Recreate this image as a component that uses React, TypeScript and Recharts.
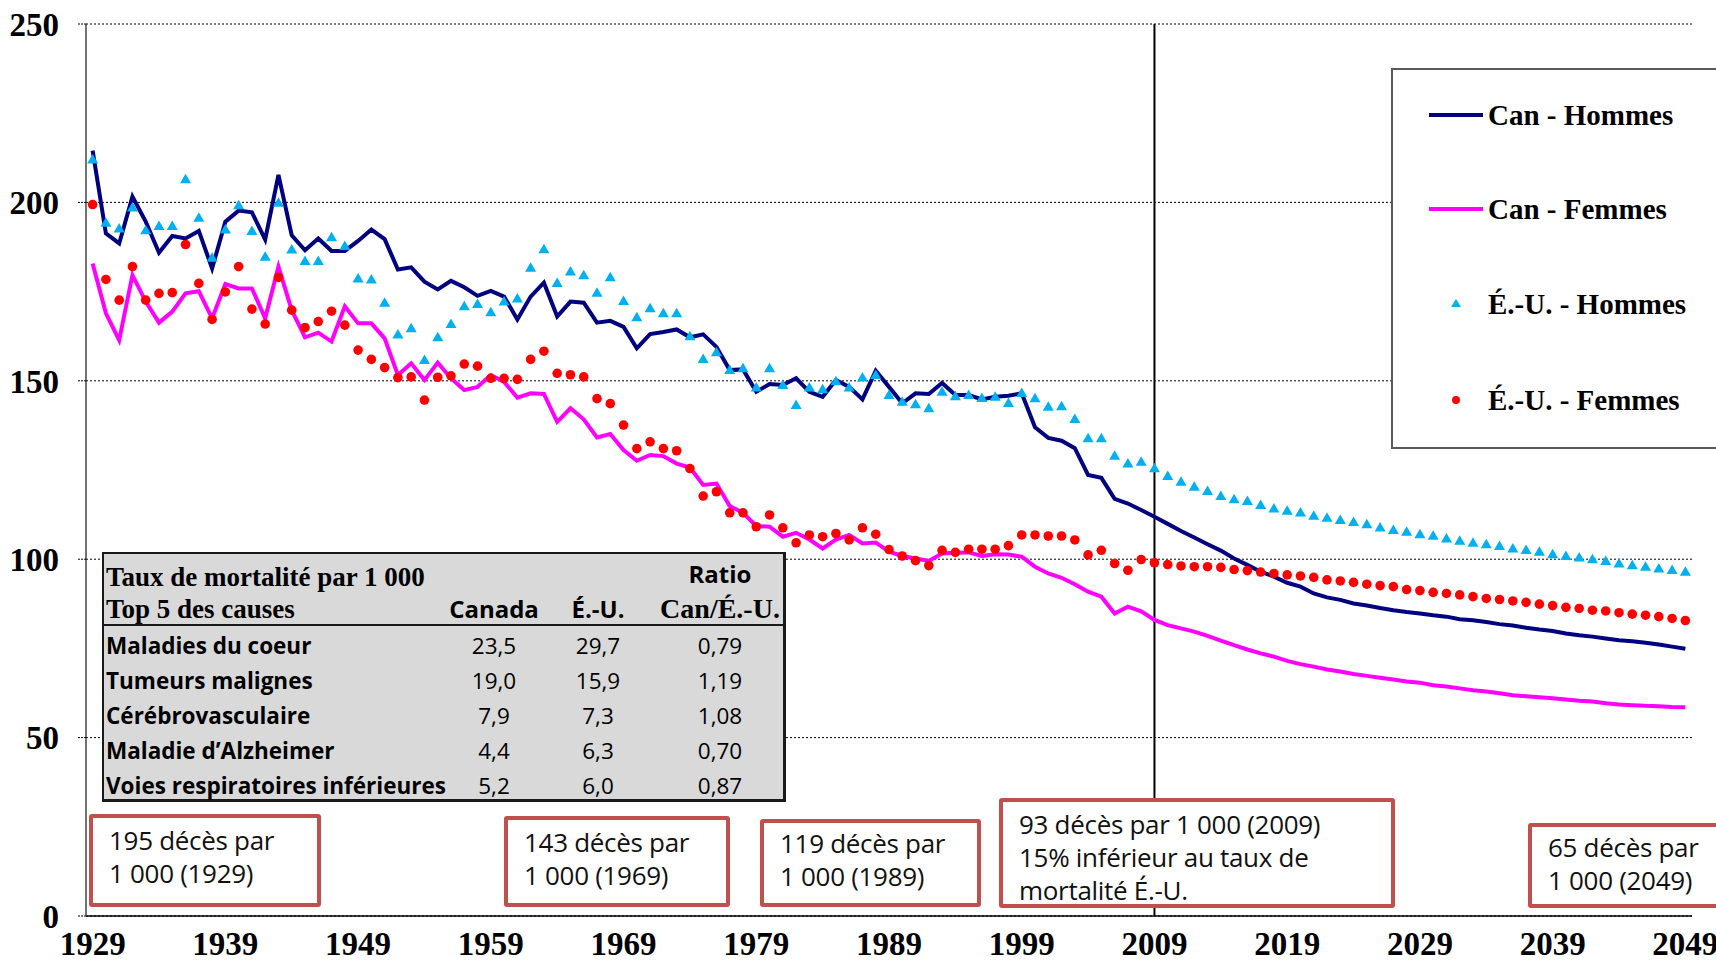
import React from 'react';
import { ComposedChart, Line, XAxis, YAxis, CartesianGrid, ReferenceLine } from 'recharts';

const FIRST_YEAR = 1929;

const CAN_HOMMES = [
  214.5, 191.3, 188.5, 201.6, 194.6, 185.9, 190.6, 189.9, 192.0, 181.5,
  194.6, 197.7, 197.2, 189.6, 207.7, 190.8, 186.6, 189.9, 186.4, 186.4,
  189.2, 192.4, 189.7, 181.2, 181.8, 177.8, 175.6, 178.0, 176.2, 173.8,
  175.2, 173.6, 167.2, 173.6, 177.5, 168.0, 172.2, 171.9, 166.3, 166.8,
  165.1, 159.1, 163.1, 163.7, 164.4, 162.2, 163.0, 159.5, 153.0, 153.2,
  146.9, 149.1, 148.8, 150.7, 146.9, 145.5, 150.2, 148.3, 144.8, 152.8,
  148.3, 143.7, 146.5, 146.3, 149.4, 146.0, 146.0, 144.8, 145.5, 145.8,
  146.5, 137.0, 134.0, 133.2, 131.1, 123.6, 122.8, 116.9, 115.6, 113.8,
  111.9, 109.9, 107.9, 106.1, 104.2, 102.4, 100.2, 98.4, 96.5, 95.1,
  93.4, 92.3, 90.4, 89.3, 88.6, 87.6, 87.0, 86.3, 85.7, 85.2,
  84.8, 84.3, 83.9, 83.2, 82.9, 82.4, 81.8, 81.4, 80.8, 80.3,
  79.9, 79.2, 78.7, 78.3, 77.8, 77.3, 77.0, 76.6, 76.1, 75.5, 74.9,
];

const CAN_FEMMES = [
  182.9, 168.9, 161.4, 179.6, 172.2, 166.3, 169.4, 174.5, 175.1, 167.5,
  177.1, 175.9, 175.9, 167.5, 182.0, 169.8, 162.2, 163.5, 161.0, 170.9,
  166.1, 166.1, 161.9, 151.6, 154.9, 150.2, 155.1, 150.7, 147.4, 148.3,
  151.6, 149.7, 145.3, 146.5, 146.3, 138.5, 142.3, 139.2, 134.1, 135.1,
  130.6, 127.6, 129.2, 128.9, 126.8, 125.7, 120.8, 121.2, 114.9, 113.0,
  109.3, 109.1, 106.3, 107.4, 105.5, 103.0, 105.5, 106.8, 104.4, 104.7,
  102.1, 100.9, 100.2, 99.5, 101.6, 101.8, 101.9, 100.9, 101.4, 101.3,
  100.7, 97.9, 96.0, 94.8, 93.0, 90.9, 89.5, 84.8, 86.7, 85.4,
  83.0, 81.5, 80.6, 79.7, 78.5, 77.2, 75.9, 74.7, 73.6, 72.7,
  71.5, 70.6, 69.9, 69.1, 68.5, 67.8, 67.3, 66.8, 66.3, 65.7,
  65.4, 64.7, 64.3, 63.8, 63.3, 62.9, 62.4, 61.9, 61.6, 61.3,
  61.0, 60.7, 60.3, 60.1, 59.6, 59.3, 59.1, 58.9, 58.8, 58.6, 58.5,
];

const EU_HOMMES = [
  212.0, 194.3, 192.7, 198.6, 192.2, 193.4, 193.4, 206.5, 195.7, 184.5,
  192.4, 199.2, 192.0, 184.8, 199.9, 186.8, 183.6, 183.6, 190.2, 187.8,
  178.7, 178.4, 171.9, 163.0, 164.7, 155.8, 162.2, 165.9, 170.9, 171.5,
  169.2, 172.2, 173.1, 181.7, 186.9, 177.4, 180.6, 179.6, 174.7, 179.0,
  172.4, 167.8, 170.3, 168.9, 168.9, 162.5, 156.1, 158.0, 153.0, 153.5,
  148.1, 153.5, 148.8, 143.2, 148.1, 147.6, 149.9, 148.1, 150.9, 151.6,
  146.0, 144.1, 143.4, 142.3, 146.9, 145.7, 146.0, 145.2, 145.5, 143.8,
  146.6, 145.1, 142.7, 142.9, 139.3, 133.9, 133.9, 129.0, 126.8, 127.3,
  125.5, 123.3, 121.7, 120.3, 119.1, 117.7, 116.8, 116.3, 115.2, 114.2,
  113.6, 113.1, 112.2, 111.6, 111.0, 110.4, 109.8, 108.9, 108.2, 107.7,
  107.0, 106.6, 105.8, 105.2, 104.6, 104.2, 103.7, 103.0, 102.6, 102.1,
  101.4, 100.9, 100.5, 100.0, 99.5, 98.8, 98.3, 97.9, 97.4, 97.0, 96.5,
];

const EU_FEMMES = [
  199.4, 178.4, 172.6, 182.0, 172.6, 174.5, 174.7, 188.2, 177.3, 167.2,
  174.9, 182.0, 170.1, 165.9, 179.0, 169.8, 164.9, 166.6, 169.5, 165.6,
  158.6, 156.0, 153.7, 150.9, 151.1, 144.6, 151.0, 151.4, 154.7, 154.1,
  150.7, 150.7, 150.4, 156.0, 158.3, 152.1, 151.7, 151.1, 145.0, 143.6,
  137.6, 131.0, 132.9, 131.0, 130.4, 125.4, 117.7, 118.9, 113.0, 113.0,
  109.1, 112.4, 108.8, 104.6, 106.8, 106.3, 107.2, 105.4, 108.8, 107.0,
  102.7, 100.9, 99.6, 98.2, 102.5, 101.9, 102.8, 102.8, 102.8, 103.8,
  106.8, 106.8, 106.5, 106.5, 105.4, 101.2, 102.5, 98.8, 96.9, 99.9,
  99.0, 98.5, 98.1, 97.9, 97.9, 97.7, 97.1, 96.8, 96.4, 96.0,
  95.6, 95.3, 94.9, 94.2, 93.9, 93.5, 93.0, 92.6, 92.3, 91.5,
  91.2, 90.7, 90.4, 90.0, 89.5, 89.0, 88.7, 88.3, 87.9, 87.4,
  87.0, 86.5, 86.2, 85.7, 85.5, 85.0, 84.6, 84.3, 83.9, 83.4, 82.8,
];

const YEARS = CAN_HOMMES.map((_, i) => FIRST_YEAR + i);

const X_TICK_MARKS = [
  1928.5, 1933.5, 1938.5, 1943.5, 1948.5, 1953.5, 1958.5, 1963.5, 1968.5, 1973.5,
  1978.5, 1983.5, 1988.5, 1993.5, 1998.5, 2003.5, 2008.5, 2013.5, 2018.5, 2023.5,
  2028.5, 2033.5, 2038.5, 2043.5, 2048.5,
];
const X_TICK_LABELS = [1929, 1939, 1949, 1959, 1969, 1979, 1989, 1999, 2009, 2019, 2029, 2039, 2049];
const Y_TICKS = [0, 50, 100, 150, 200, 250];
const X_DOMAIN: [number, number] = [1928.5, 2049.5];
const MARKER_YEAR = 2009;

const LEGEND_LABELS = ['Can - Hommes', 'Can - Femmes', 'É.-U. - Hommes', 'É.-U. - Femmes'];

const TABLE_TITLE = ['Taux de mortalité par 1 000', 'Top 5 des causes'];
const TABLE_HEAD = ['Canada', 'É.-U.', 'Ratio', 'Can/É.-U.'];
const CAUSES = ['Maladies du coeur', 'Tumeurs malignes', 'Cérébrovasculaire', 'Maladie d’Alzheimer', 'Voies respiratoires inférieures'];
const CANADA_RATES = ['23,5', '19,0', '7,9', '4,4', '5,2'];
const EU_RATES = ['29,7', '15,9', '7,3', '6,3', '6,0'];
const RATIOS = ['0,79', '1,19', '1,08', '0,70', '0,87'];

const NOTES = [
  ['195 décès par', '1 000 (1929)'],
  ['143 décès par', '1 000 (1969)'],
  ['119 décès par', '1 000 (1989)'],
  ['93 décès par 1 000 (2009)', '15% inférieur au taux de', 'mortalité É.-U.'],
  ['65 décès par', '1 000 (2049)'],
];

const NAVY = '#000080';
const MAGENTA = '#ff00ff';
const SKY = '#00b0f0';
const RED = '#ff0000';

const data = YEARS.map((year, i) => ({
  year,
  canH: CAN_HOMMES[i],
  canF: CAN_FEMMES[i],
  euH: EU_HOMMES[i],
  euF: EU_FEMMES[i],
}));

const SERIF = '"Liberation Serif", "Times New Roman", serif';
const SANS = '"Open Sans", "Noto Sans", sans-serif';

const TriangleDot = (props: any) => {
  const { cx, cy } = props;
  if (cx == null || cy == null) return null;
  return <path d={`M${cx},${cy - 5.5}L${cx + 5.5},${cy + 4}L${cx - 5.5},${cy + 4}Z`} fill={SKY} />;
};

const axisFont = { fontFamily: SERIF, fontWeight: 700, fontSize: 33, fill: '#000' };

const noteBoxes = [
  { left: 89, top: 814, width: 232, height: 93, pad: 6 },
  { left: 504, top: 816, width: 226, height: 91, pad: 6 },
  { left: 760, top: 819, width: 221, height: 88, pad: 4 },
  { left: 999, top: 798, width: 396, height: 110, pad: 6 },
  { left: 1528, top: 823, width: 250, height: 85, pad: 4 },
];

export default function App() {
  const colCenters = [390, 494, 616];
  return (
    <div style={{ position: 'absolute', left: 0, top: 0, width: 1716, height: 963, overflow: 'hidden', background: '#fff' }}>
      <ComposedChart width={1716} height={963} data={data} margin={{ top: 24, right: 24, left: 0, bottom: 0 }}>
        <CartesianGrid vertical={false} stroke="#000" strokeDasharray="2 2" strokeWidth={1} />
        <XAxis
          type="number"
          dataKey="year"
          domain={X_DOMAIN}
          ticks={X_TICK_MARKS}
          interval={0}
          tick={false}
          tickSize={9}
          height={9}
          axisLine={{ stroke: '#000', strokeWidth: 1.5 }}
          tickLine={{ stroke: '#000', strokeWidth: 1.5 }}
        />
        <XAxis
          xAxisId="labels"
          type="number"
          dataKey="year"
          domain={X_DOMAIN}
          ticks={X_TICK_LABELS}
          interval={0}
          axisLine={false}
          tickLine={false}
          tickSize={0}
          tickMargin={7}
          height={38}
          tick={axisFont}
        />
        <YAxis
          type="number"
          domain={[0, 250]}
          ticks={Y_TICKS}
          interval={0}
          width={86}
          tickSize={8}
          tickMargin={19}
          axisLine={{ stroke: '#444', strokeWidth: 1.5 }}
          tickLine={{ stroke: '#000', strokeDasharray: '2 1' }}
          tick={axisFont}
        />
        <ReferenceLine x={MARKER_YEAR} stroke="#000" strokeWidth={2} ifOverflow="visible" />
        <Line dataKey="canH" stroke={NAVY} strokeWidth={4} dot={false} activeDot={false} isAnimationActive={false} />
        <Line dataKey="canF" stroke={MAGENTA} strokeWidth={4} dot={false} activeDot={false} isAnimationActive={false} />
        <Line
          dataKey="euH"
          stroke="none"
          strokeWidth={0}
          dot={(p: any) => <TriangleDot key={`t${p.index}`} {...p} />}
          activeDot={false}
          isAnimationActive={false}
        />
        <Line
          dataKey="euF"
          stroke="none"
          strokeWidth={0}
          dot={{ r: 4.8, fill: RED, stroke: 'none', strokeWidth: 0 }}
          activeDot={false}
          isAnimationActive={false}
        />
      </ComposedChart>

      {/* Table */}
      <div style={{ position: 'absolute', left: 102, top: 552, width: 684, height: 250, boxSizing: 'border-box', background: '#d9d9d9', border: '2px solid #1a1a1a', borderRightWidth: 3, borderBottomWidth: 3, color: '#000' }}>
        <div style={{ position: 'absolute', left: 2, top: 5, fontFamily: SERIF, fontWeight: 700, fontSize: 27, lineHeight: '36px', whiteSpace: 'nowrap' }}>{TABLE_TITLE[0]}</div>
        <div style={{ position: 'absolute', left: 2, top: 37, fontFamily: SERIF, fontWeight: 700, fontSize: 27, lineHeight: '36px', whiteSpace: 'nowrap' }}>{TABLE_TITLE[1]}</div>
        <div style={{ position: 'absolute', left: colCenters[0] - 70, width: 140, textAlign: 'center', top: 37, fontFamily: SANS, fontWeight: 700, fontSize: 24, lineHeight: '36px' }}>{TABLE_HEAD[0]}</div>
        <div style={{ position: 'absolute', left: colCenters[1] - 70, width: 140, textAlign: 'center', top: 37, fontFamily: SANS, fontWeight: 700, fontSize: 24, lineHeight: '36px' }}>{TABLE_HEAD[1]}</div>
        <div style={{ position: 'absolute', left: colCenters[2] - 70, width: 140, textAlign: 'center', top: 2, fontFamily: SANS, fontWeight: 700, fontSize: 24, lineHeight: '36px' }}>{TABLE_HEAD[2]}</div>
        <div style={{ position: 'absolute', left: colCenters[2] - 75, width: 150, textAlign: 'center', top: 37, fontFamily: SERIF, fontWeight: 700, fontSize: 28, lineHeight: '36px', whiteSpace: 'nowrap' }}>{TABLE_HEAD[3]}</div>
        <div style={{ position: 'absolute', left: 0, right: 0, top: 70, height: 0, borderTop: '2px solid #1a1a1a' }} />
        {CAUSES.map((c, i) => (
          <div key={c} style={{ position: 'absolute', left: 0, right: 0, top: 74 + i * 35, height: 35, lineHeight: '35px', fontFamily: SANS, fontSize: 22.5 }}>
            <span style={{ position: 'absolute', left: 2, fontWeight: 700, whiteSpace: 'nowrap' }}>{c}</span>
            <span style={{ position: 'absolute', left: colCenters[0] - 50, width: 100, textAlign: 'center' }}>{CANADA_RATES[i]}</span>
            <span style={{ position: 'absolute', left: colCenters[1] - 50, width: 100, textAlign: 'center' }}>{EU_RATES[i]}</span>
            <span style={{ position: 'absolute', left: colCenters[2] - 50, width: 100, textAlign: 'center' }}>{RATIOS[i]}</span>
          </div>
        ))}
      </div>

      {/* Legend */}
      <div style={{ position: 'absolute', left: 1391, top: 68, width: 400, height: 381, boxSizing: 'border-box', background: '#fff', border: '2px solid #595959' }}>
        {LEGEND_LABELS.map((label, i) => {
          const cy = [45, 139, 234, 330][i];
          return (
            <div key={label} style={{ position: 'absolute', left: 0, top: cy - 20, height: 40, width: 398 }}>
              <svg width={70} height={40} style={{ position: 'absolute', left: 30, top: 0 }}>
                {i === 0 && <line x1={6} y1={20} x2={60} y2={20} stroke={NAVY} strokeWidth={4} />}
                {i === 1 && <line x1={6} y1={20} x2={60} y2={20} stroke={MAGENTA} strokeWidth={4} />}
                {i === 2 && <path d="M33,15L38,23L28,23Z" fill={SKY} />}
                {i === 3 && <circle cx={33} cy={20} r={4} fill={RED} />}
              </svg>
              <div style={{ position: 'absolute', left: 95, top: 0, lineHeight: '40px', fontFamily: SERIF, fontWeight: 700, fontSize: 29, color: '#000', whiteSpace: 'nowrap' }}>{label}</div>
            </div>
          );
        })}
      </div>

      {/* Notes */}
      {NOTES.map((lines, i) => {
        const b = noteBoxes[i];
        return (
          <div key={i} style={{ position: 'absolute', left: b.left, top: b.top, width: b.width, height: b.height, boxSizing: 'border-box', background: '#fff', border: '4px solid #c0504d', borderRadius: 3, paddingLeft: 16, paddingTop: b.pad, fontFamily: SANS, fontSize: 26, fontWeight: 500, lineHeight: '33px', color: '#111', whiteSpace: 'nowrap', letterSpacing: -0.3 }}>
            {lines.map((l) => <div key={l}>{l}</div>)}
          </div>
        );
      })}
    </div>
  );
}
